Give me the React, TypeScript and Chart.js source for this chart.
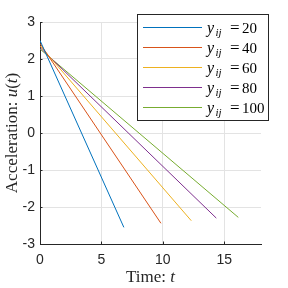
import { useEffect, useRef } from 'react';
import { Chart, registerables } from 'chart.js';
Chart.register(...registerables);

const seriesLabels = ['20', '40', '60', '80', '100'];
const seriesColors = ['#0072BD', '#D95319', '#EDB120', '#7E2F8E', '#77AC30'];
const tStart = [0, 0, 0, 0, 0];
const tEnd = [6.83, 9.85, 12.32, 14.36, 16.15];
const uStart = [2.5, 2.42, 2.36, 2.31, 2.27];
const uEnd = [-2.55, -2.44, -2.37, -2.3, -2.28];
const xTicks = [0, 5, 10, 15];
const yTicks = [-3, -2, -1, 0, 1, 2, 3];
const xTitle = ['Time: ', 't'];
const yTitle = ['Acceleration: ', 'u', '(', 't', ')'];

const AXIS = '#262626';
const SERIF = '"Liberation Serif", "Times New Roman", serif';

type Run = { text: string; font: string };

function drawRuns(ctx: CanvasRenderingContext2D, runs: Run[], cx: number, y: number) {
  let total = 0;
  for (const r of runs) {
    ctx.font = r.font;
    total += ctx.measureText(r.text).width;
  }
  let x = cx - total / 2;
  ctx.textAlign = 'left';
  ctx.textBaseline = 'alphabetic';
  for (const r of runs) {
    ctx.font = r.font;
    ctx.fillText(r.text, x, y);
    x += ctx.measureText(r.text).width;
  }
}

const decorPlugin = {
  id: 'decor',
  afterDraw(chart: any) {
    const ctx: CanvasRenderingContext2D = chart.ctx;
    const area = chart.chartArea;
    const xs = chart.scales.x;
    const ys = chart.scales.y;
    ctx.save();
    // inward tick marks
    ctx.strokeStyle = AXIS;
    ctx.lineWidth = 1;
    ctx.beginPath();
    for (const v of xTicks) {
      const px = Math.round(xs.getPixelForValue(v)) + 0.5;
      ctx.moveTo(px, area.bottom);
      ctx.lineTo(px, area.bottom - 2.5);
    }
    for (const v of yTicks) {
      const py = Math.round(ys.getPixelForValue(v)) + 0.5;
      ctx.moveTo(area.left, py);
      ctx.lineTo(area.left + 2.5, py);
    }
    ctx.stroke();

    // axis titles
    ctx.fillStyle = AXIS;
    const reg = `17px ${SERIF}`;
    const ital = `italic 17px ${SERIF}`;
    drawRuns(ctx, [
      { text: xTitle[0], font: reg },
      { text: xTitle[1], font: ital },
    ], (area.left + area.right) / 2, 282);
    ctx.save();
    ctx.translate(17, (area.top + area.bottom) / 2);
    ctx.rotate(-Math.PI / 2);
    drawRuns(ctx, [
      { text: yTitle[0], font: reg },
      { text: yTitle[1], font: ital },
      { text: yTitle[2], font: reg },
      { text: yTitle[3], font: ital },
      { text: yTitle[4], font: reg },
    ], 0, 0);
    ctx.restore();

    // legend
    const bx = 137.5, by = 14.5, bw = 131, bh = 106;
    ctx.fillStyle = '#ffffff';
    ctx.fillRect(bx, by, bw, bh);
    ctx.strokeStyle = AXIS;
    ctx.lineWidth = 1;
    ctx.strokeRect(bx, by, bw, bh);
    seriesLabels.forEach((lab, i) => {
      const ry = 27.5 + 20 * i;
      ctx.strokeStyle = seriesColors[i];
      ctx.lineWidth = 1;
      ctx.beginPath();
      ctx.moveTo(143, ry);
      ctx.lineTo(202, ry);
      ctx.stroke();
      ctx.fillStyle = '#000000';
      ctx.textAlign = 'left';
      ctx.textBaseline = 'alphabetic';
      ctx.font = `italic 16px ${SERIF}`;
      ctx.fillText('y', 207, ry + 5);
      ctx.font = `italic 11px ${SERIF}`;
      ctx.fillText('ij', 215.5, ry + 8);
      ctx.font = `17px ${SERIF}`;
      ctx.fillText('=', 230, ry + 5.5);
      ctx.font = `15px ${SERIF}`;
      ctx.fillText(lab, 242, ry + 5.5);
    });
    ctx.restore();
  },
};

export default function App() {
  const ref = useRef<HTMLCanvasElement | null>(null);
  useEffect(() => {
    if (!ref.current) return;
    const chart = new Chart(ref.current, {
      type: 'line',
      data: {
        datasets: seriesLabels.map((lab, i) => ({
          label: 'y_ij =' + lab,
          data: [
            { x: tStart[i], y: uStart[i] },
            { x: tEnd[i], y: uEnd[i] },
          ],
          borderColor: seriesColors[i],
          backgroundColor: seriesColors[i],
          borderWidth: 1,
          pointRadius: 0,
          fill: false,
          tension: 0,
        })),
      },
      options: {
        responsive: false,
        animation: false,
        events: [],
        layout: { padding: { top: 22, right: 27, left: 0, bottom: 0 } },
        plugins: {
          legend: { display: false },
          tooltip: { enabled: false },
          title: { display: false },
        },
        scales: {
          x: {
            type: 'linear',
            min: 0,
            max: 18,
            afterBuildTicks: (s: any) => {
              s.ticks = xTicks.map((v) => ({ value: v }));
            },
            afterFit: (s: any) => {
              s.height = 44;
            },
            grid: { color: '#e3e3e3', drawTicks: false },
            border: { color: AXIS, width: 1 },
            ticks: {
              padding: 8,
              maxRotation: 0,
              color: AXIS,
              font: { family: '"Liberation Sans", Arial, sans-serif', size: 14 },
            },
          },
          y: {
            type: 'linear',
            min: -3,
            max: 3,
            afterBuildTicks: (s: any) => {
              s.ticks = yTicks.map((v) => ({ value: v }));
            },
            afterFit: (s: any) => {
              s.width = 40;
            },
            grid: { color: '#e3e3e3', drawTicks: false },
            border: { color: AXIS, width: 1 },
            ticks: {
              padding: 5,
              color: AXIS,
              font: { family: '"Liberation Sans", Arial, sans-serif', size: 14 },
            },
          },
        },
      },
      plugins: [decorPlugin],
    });
    return () => chart.destroy();
  }, []);
  return (
    <div style={{ position: 'fixed', left: 0, top: 0, width: 288, height: 288, background: '#fff' }}>
      <canvas ref={ref} width={288} height={288} style={{ display: 'block', width: 288, height: 288 }} />
    </div>
  );
}
